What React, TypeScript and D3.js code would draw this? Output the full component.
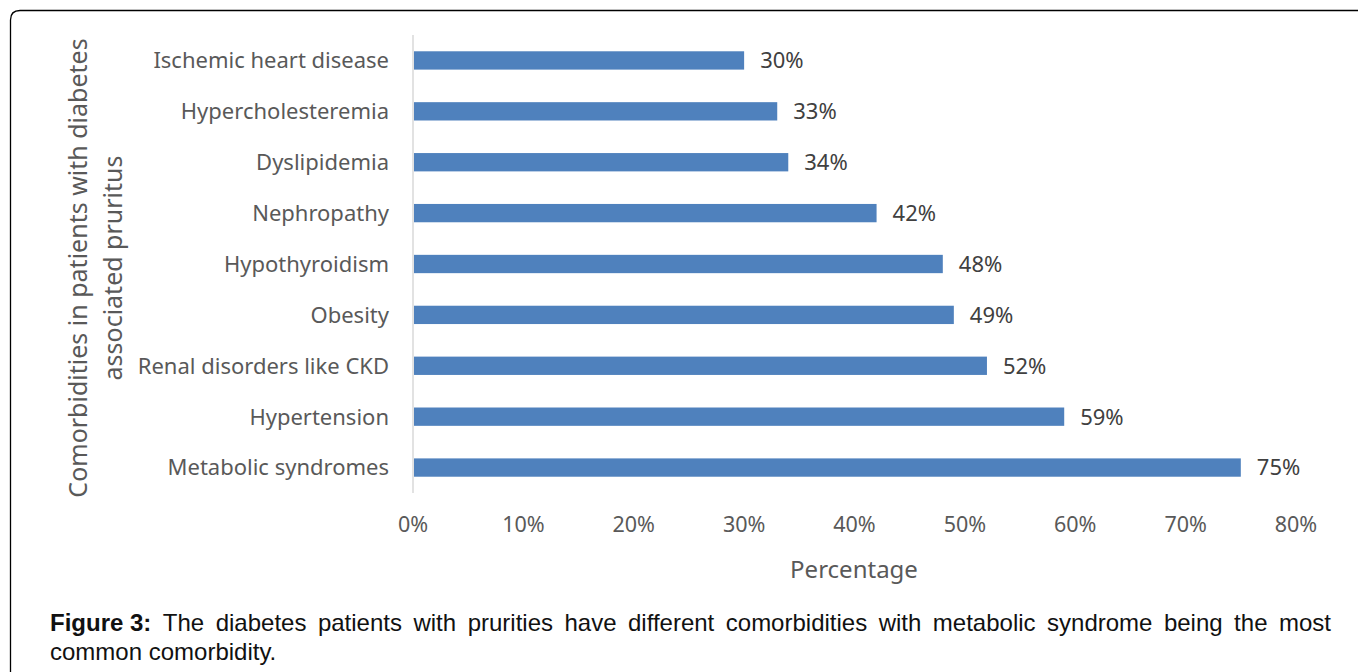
import React, { useEffect, useRef } from 'react';
import * as d3 from 'd3';

const categories = [
  'Ischemic heart disease',
  'Hypercholesteremia',
  'Dyslipidemia',
  'Nephropathy',
  'Hypothyroidism',
  'Obesity',
  'Renal disorders like CKD',
  'Hypertension',
  'Metabolic syndromes',
];
const values = [30, 33, 34, 42, 48, 49, 52, 59, 75];
const xTicks = [0, 10, 20, 30, 40, 50, 60, 70, 80];
const yTitle = ['Comorbidities in patients with diabetes', 'associated pruritus'];
const xTitle = 'Percentage';
const captionBold = 'Figure 3:';
const captionLine1 = 'The diabetes patients with prurities have different comorbidities with metabolic syndrome being the most';
const captionLine2 = 'common comorbidity.';

const W = 1358;
const H = 672;

export default function App() {
  const ref = useRef<SVGSVGElement>(null);

  useEffect(() => {
    const svg = d3.select(ref.current);
    svg.selectAll('*').remove();

    const font = '"Noto Sans", sans-serif';
    const grey = '#595959';

    // frame
    svg.append('path')
      .attr('d', `M10.5,${H} L10.5,20 Q10.5,10.5 20,10.5 L${W},10.5`)
      .attr('fill', 'none')
      .attr('stroke', '#000')
      .attr('stroke-width', 1.3);

    const left = 413;
    const top = 35;
    const bottom = 493;

    const x = d3.scaleLinear().domain([0, 80]).range([left, 1296]);
    const y = d3.scaleBand().domain(categories).range([top, bottom]).paddingInner(0.64).paddingOuter(0.32);

    svg.append('line')
      .attr('x1', left).attr('x2', left)
      .attr('y1', top).attr('y2', bottom)
      .attr('stroke', '#d9d9d9').attr('stroke-width', 1.5);

    svg.selectAll('rect.bar')
      .data(values)
      .enter()
      .append('rect')
      .attr('class', 'bar')
      .attr('x', x(0) + 1)
      .attr('y', (d, i) => y(categories[i])!)
      .attr('width', d => x(d) - x(0) - 1)
      .attr('height', y.bandwidth())
      .attr('fill', '#4F81BD');

    svg.selectAll('text.val')
      .data(values)
      .enter()
      .append('text')
      .attr('x', d => x(d) + 16)
      .attr('y', (d, i) => y(categories[i])! + y.bandwidth() / 2)
      .attr('dy', '0.36em')
      .attr('font-family', font)
      .attr('font-size', 22)
      .attr('fill', '#404040')
      .text(d => d + '%');

    svg.selectAll('text.cat')
      .data(categories)
      .enter()
      .append('text')
      .attr('x', 389)
      .attr('y', d => y(d)! + y.bandwidth() / 2)
      .attr('dy', '0.36em')
      .attr('text-anchor', 'end')
      .attr('font-family', font)
      .attr('font-size', 22)
      .attr('fill', grey)
      .text(d => d);

    svg.selectAll('text.tick')
      .data(xTicks)
      .enter()
      .append('text')
      .attr('x', d => x(d))
      .attr('y', 524)
      .attr('dy', '0.36em')
      .attr('text-anchor', 'middle')
      .attr('font-family', font)
      .attr('font-size', 21.5)
      .attr('fill', grey)
      .text(d => d + '%');

    svg.append('text')
      .attr('x', 854).attr('y', 569)
      .attr('dy', '0.36em')
      .attr('text-anchor', 'middle')
      .attr('font-family', font)
      .attr('font-size', 24)
      .attr('fill', grey)
      .text(xTitle);

    yTitle.forEach((t, i) => {
      svg.append('text')
        .attr('transform', `translate(${78 + i * 35},268) rotate(-90)`)
        .attr('dy', '0.36em')
        .attr('text-anchor', 'middle')
        .attr('font-family', font)
        .attr('font-size', 25)
        .attr('fill', grey)
        .text(t);
    });

    // caption, first line justified
    const capFont = '"Liberation Sans", Arial, sans-serif';
    const capLeft = 50;
    const capRight = 1331;
    const words = [captionBold, ...captionLine1.split(' ')];
    const nodes = words.map((w, i) =>
      svg.append('text')
        .attr('y', 631)
        .attr('font-family', capFont)
        .attr('font-size', 24)
        .attr('font-weight', i === 0 ? 'bold' : 'normal')
        .attr('fill', '#111')
        .text(w));
    const widths = nodes.map(n => (n.node() as SVGTextElement).getComputedTextLength());
    const gap = (capRight - capLeft - d3.sum(widths)) / (words.length - 1);
    let cx = capLeft;
    nodes.forEach((n, i) => {
      n.attr('x', cx);
      cx += widths[i] + gap;
    });
    svg.append('text')
      .attr('x', capLeft).attr('y', 660)
      .attr('font-family', capFont)
      .attr('font-size', 24)
      .attr('fill', '#111')
      .text(captionLine2);
  }, []);

  return (
    <svg ref={ref} width={W} height={H} style={{ position: 'absolute', left: 0, top: 0, background: '#fff' }} />
  );
}
